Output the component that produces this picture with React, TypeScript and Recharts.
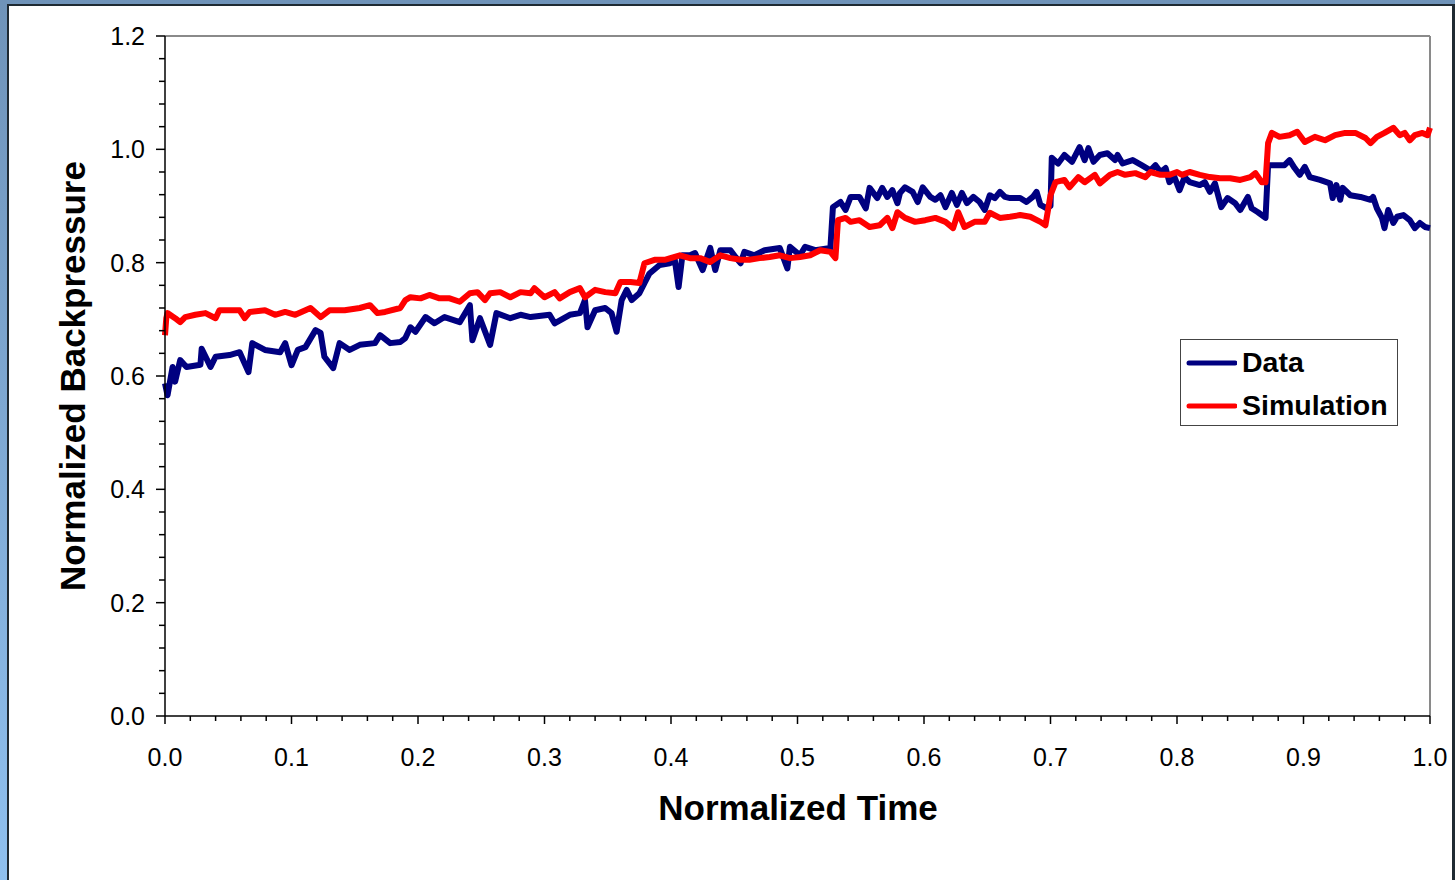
import React from 'react'
import { LineChart, Line, XAxis, YAxis, ReferenceLine, Legend } from 'recharts'

const FONT = '"Liberation Sans", Arial, sans-serif'

// measured backpressure (normalized time, normalized value)
const dataTime = [
  0.000, 0.002, 0.006, 0.008, 0.012, 0.017, 0.028, 0.029, 0.036, 0.040,
  0.051, 0.059, 0.066, 0.069, 0.079, 0.091, 0.095, 0.100, 0.105, 0.111,
  0.119, 0.123, 0.126, 0.133, 0.138, 0.146, 0.154, 0.166, 0.170, 0.178,
  0.186, 0.190, 0.194, 0.198, 0.206, 0.213, 0.221, 0.233, 0.241, 0.243,
  0.249, 0.257, 0.262, 0.273, 0.281, 0.289, 0.304, 0.308, 0.320, 0.328,
  0.332, 0.334, 0.340, 0.348, 0.353, 0.357, 0.361, 0.365, 0.369, 0.375,
  0.379, 0.383, 0.391, 0.399, 0.403, 0.406, 0.409, 0.415, 0.419, 0.425,
  0.431, 0.435, 0.439, 0.447, 0.451, 0.455, 0.458, 0.466, 0.474, 0.486,
  0.492, 0.494, 0.502, 0.506, 0.514, 0.526, 0.528, 0.534, 0.538, 0.542,
  0.549, 0.554, 0.557, 0.563, 0.567, 0.571, 0.575, 0.579, 0.581, 0.585,
  0.591, 0.595, 0.599, 0.605, 0.609, 0.613, 0.617, 0.622, 0.626, 0.630,
  0.634, 0.639, 0.644, 0.648, 0.652, 0.656, 0.660, 0.664, 0.668, 0.676,
  0.681, 0.686, 0.689, 0.692, 0.697, 0.700, 0.701, 0.706, 0.711, 0.717,
  0.723, 0.727, 0.730, 0.734, 0.739, 0.745, 0.751, 0.753, 0.757, 0.765,
  0.772, 0.779, 0.783, 0.787, 0.791, 0.794, 0.798, 0.802, 0.806, 0.810,
  0.818, 0.822, 0.826, 0.830, 0.835, 0.840, 0.846, 0.850, 0.856, 0.859,
  0.864, 0.870, 0.872, 0.877, 0.885, 0.889, 0.893, 0.897, 0.901, 0.905,
  0.913, 0.921, 0.923, 0.926, 0.929, 0.931, 0.937, 0.945, 0.953, 0.955,
  0.958, 0.962, 0.964, 0.967, 0.971, 0.974, 0.979, 0.984, 0.988, 0.992,
  0.996, 1.000,
]
const dataValue = [
  0.587, 0.566, 0.616, 0.590, 0.628, 0.616, 0.620, 0.648, 0.616, 0.634,
  0.637, 0.642, 0.607, 0.658, 0.646, 0.642, 0.658, 0.619, 0.646, 0.651,
  0.681, 0.676, 0.634, 0.614, 0.658, 0.646, 0.655, 0.658, 0.672, 0.658,
  0.660, 0.667, 0.686, 0.678, 0.704, 0.693, 0.704, 0.695, 0.725, 0.663,
  0.702, 0.655, 0.711, 0.702, 0.708, 0.704, 0.708, 0.693, 0.708, 0.711,
  0.734, 0.686, 0.716, 0.720, 0.711, 0.678, 0.734, 0.752, 0.734, 0.746,
  0.764, 0.781, 0.796, 0.799, 0.805, 0.757, 0.813, 0.813, 0.817, 0.787,
  0.826, 0.787, 0.822, 0.822, 0.810, 0.799, 0.819, 0.813, 0.822, 0.826,
  0.790, 0.828, 0.813, 0.828, 0.822, 0.826, 0.898, 0.907, 0.893, 0.916,
  0.916, 0.896, 0.932, 0.914, 0.932, 0.916, 0.928, 0.905, 0.923, 0.933,
  0.925, 0.907, 0.933, 0.916, 0.911, 0.919, 0.898, 0.923, 0.902, 0.923,
  0.905, 0.916, 0.907, 0.893, 0.919, 0.914, 0.925, 0.916, 0.914, 0.914,
  0.907, 0.916, 0.925, 0.902, 0.896, 0.900, 0.985, 0.975, 0.990, 0.978,
  1.004, 0.981, 1.002, 0.978, 0.990, 0.993, 0.981, 0.990, 0.975, 0.981,
  0.972, 0.963, 0.972, 0.960, 0.967, 0.942, 0.951, 0.928, 0.951, 0.942,
  0.937, 0.942, 0.925, 0.940, 0.898, 0.914, 0.905, 0.893, 0.916, 0.896,
  0.889, 0.879, 0.972, 0.972, 0.972, 0.981, 0.967, 0.955, 0.969, 0.951,
  0.946, 0.940, 0.914, 0.937, 0.911, 0.932, 0.919, 0.916, 0.911, 0.916,
  0.896, 0.879, 0.861, 0.893, 0.870, 0.881, 0.884, 0.875, 0.861, 0.870,
  0.863, 0.861,
]

// simulated backpressure
const simTime = [
  0.000, 0.001, 0.002, 0.008, 0.012, 0.016, 0.024, 0.032, 0.040, 0.043,
  0.059, 0.063, 0.067, 0.079, 0.087, 0.095, 0.103, 0.115, 0.123, 0.130,
  0.142, 0.154, 0.162, 0.168, 0.174, 0.186, 0.190, 0.194, 0.202, 0.209,
  0.217, 0.225, 0.233, 0.241, 0.247, 0.253, 0.257, 0.265, 0.273, 0.281,
  0.289, 0.292, 0.300, 0.308, 0.312, 0.320, 0.328, 0.332, 0.340, 0.348,
  0.356, 0.360, 0.368, 0.375, 0.379, 0.387, 0.395, 0.407, 0.415, 0.423,
  0.431, 0.439, 0.447, 0.455, 0.462, 0.470, 0.478, 0.486, 0.494, 0.502,
  0.510, 0.518, 0.526, 0.530, 0.532, 0.538, 0.542, 0.549, 0.557, 0.565,
  0.571, 0.575, 0.579, 0.585, 0.593, 0.601, 0.609, 0.617, 0.623, 0.627,
  0.632, 0.640, 0.648, 0.652, 0.660, 0.668, 0.676, 0.684, 0.692, 0.696,
  0.700, 0.704, 0.711, 0.715, 0.722, 0.727, 0.735, 0.739, 0.747, 0.753,
  0.759, 0.767, 0.775, 0.779, 0.787, 0.794, 0.800, 0.804, 0.810, 0.818,
  0.826, 0.834, 0.842, 0.850, 0.858, 0.862, 0.867, 0.870, 0.872, 0.875,
  0.881, 0.889, 0.895, 0.901, 0.909, 0.917, 0.925, 0.933, 0.941, 0.949,
  0.953, 0.958, 0.964, 0.971, 0.976, 0.980, 0.984, 0.988, 0.994, 0.998,
  1.000,
]
const simValue = [
  0.672, 0.702, 0.711, 0.702, 0.695, 0.704, 0.708, 0.711, 0.702, 0.716,
  0.716, 0.702, 0.713, 0.716, 0.708, 0.713, 0.708, 0.720, 0.704, 0.716,
  0.716, 0.720, 0.725, 0.711, 0.713, 0.720, 0.734, 0.739, 0.737, 0.743,
  0.737, 0.737, 0.731, 0.746, 0.748, 0.734, 0.746, 0.748, 0.739, 0.748,
  0.746, 0.755, 0.739, 0.748, 0.737, 0.748, 0.755, 0.739, 0.752, 0.748,
  0.746, 0.766, 0.766, 0.764, 0.799, 0.805, 0.805, 0.813, 0.808, 0.808,
  0.801, 0.813, 0.808, 0.805, 0.805, 0.808, 0.810, 0.813, 0.808, 0.810,
  0.813, 0.822, 0.819, 0.808, 0.875, 0.879, 0.872, 0.875, 0.863, 0.866,
  0.879, 0.861, 0.889, 0.879, 0.872, 0.875, 0.879, 0.872, 0.861, 0.889,
  0.863, 0.872, 0.872, 0.888, 0.879, 0.881, 0.884, 0.881, 0.872, 0.866,
  0.919, 0.942, 0.946, 0.933, 0.951, 0.942, 0.955, 0.940, 0.955, 0.960,
  0.955, 0.958, 0.951, 0.960, 0.955, 0.955, 0.960, 0.955, 0.960, 0.955,
  0.951, 0.949, 0.949, 0.946, 0.951, 0.958, 0.942, 0.942, 1.011, 1.029,
  1.022, 1.025, 1.031, 1.013, 1.022, 1.016, 1.025, 1.029, 1.029, 1.020,
  1.011, 1.022, 1.029, 1.038, 1.025, 1.029, 1.016, 1.025, 1.029, 1.025,
  1.038,
]

const xTicks = [
  0, 0.02, 0.04, 0.06, 0.08, 0.1, 0.12, 0.14, 0.16, 0.18,
  0.2, 0.22, 0.24, 0.26, 0.28, 0.3, 0.32, 0.34, 0.36, 0.38,
  0.4, 0.42, 0.44, 0.46, 0.48, 0.5, 0.52, 0.54, 0.56, 0.58,
  0.6, 0.62, 0.64, 0.66, 0.68, 0.7, 0.72, 0.74, 0.76, 0.78,
  0.8, 0.82, 0.84, 0.86, 0.88, 0.9, 0.92, 0.94, 0.96, 0.98, 1,
]
const yTicks = [
  0, 0.04, 0.08, 0.12, 0.16, 0.2, 0.24, 0.28, 0.32, 0.36, 0.4,
  0.44, 0.48, 0.52, 0.56, 0.6, 0.64, 0.68, 0.72, 0.76, 0.8,
  0.84, 0.88, 0.92, 0.96, 1, 1.04, 1.08, 1.12, 1.16, 1.2,
]

const dataPoints = dataTime.map((t, i) => ({ t, v: dataValue[i] }))
const simPoints = simTime.map((t, i) => ({ t, v: simValue[i] }))

const isMajor = (v: number, step: number) => Math.abs(v / step - Math.round(v / step)) < 1e-6

function XTick({ x, y, payload }: any) {
  const major = isMajor(payload.value, 0.1)
  return (
    <g>
      <line x1={x} x2={x} y1={y} y2={y + (major ? 8 : 5)} stroke="#000" strokeWidth={1.5} />
      {major && (
        <text x={x} y={y + 50} textAnchor="middle" fontSize={25} fontFamily={FONT} fill="#000">
          {payload.value.toFixed(1)}
        </text>
      )}
    </g>
  )
}

function YTick({ x, y, payload }: any) {
  const major = isMajor(payload.value, 0.2)
  return (
    <g>
      <line x1={x - (major ? 9 : 6)} x2={x} y1={y} y2={y} stroke="#000" strokeWidth={1.5} />
      {major && (
        <text x={x - 20} y={y + 9} textAnchor="end" fontSize={25} fontFamily={FONT} fill="#000">
          {payload.value.toFixed(1)}
        </text>
      )}
    </g>
  )
}

function LegendBox({ payload }: any) {
  return (
    <div style={{
      width: 218, height: 87, boxSizing: 'border-box', border: '1.5px solid #444',
      background: '#fff', paddingTop: 1,
    }}>
      {(payload ?? []).map((item: any) => (
        <div key={item.value} style={{ display: 'flex', alignItems: 'center', height: 43 }}>
          <svg width={56} height={10} style={{ flex: 'none' }}>
            <line x1={8} x2={54} y1={5} y2={5} stroke={item.color} strokeWidth={5} strokeLinecap="round" />
          </svg>
          <span style={{ marginLeft: 5, fontFamily: FONT, fontWeight: 700, fontSize: 28.5, color: '#000', lineHeight: 1 }}>
            {item.value}
          </span>
        </div>
      ))}
    </div>
  )
}

export default function App() {
  return (
    <div style={{
      position: 'absolute', left: 0, top: 0, width: 1455, height: 880, overflow: 'hidden',
      background: 'linear-gradient(180deg, #6f93b9 0%, #8fc0ef 100%)',
    }}>
      {/* slide frame */}
      <div style={{
        position: 'absolute', left: 7, top: 4, width: 1443, height: 880, background: '#fff',
        borderLeft: '2px solid #1f2a33', borderTop: '2px solid #1f2a33', borderRight: '3px solid #1f2a33',
      }} />

      <div style={{ position: 'absolute', left: 0, top: 0 }}>
        <LineChart
          width={1455}
          height={880}
          margin={{ top: 36, right: 25, bottom: 104, left: 0 }}
        >
          <XAxis
            type="number"
            dataKey="t"
            domain={[0, 1]}
            ticks={xTicks}
            interval={0}
            tickSize={0}
            tickMargin={0}
            tickLine={false}
            tick={<XTick />}
            height={60}
            axisLine={{ stroke: '#000', strokeWidth: 1.5 }}
            allowDuplicatedCategory={false}
          />
          <YAxis
            type="number"
            domain={[0, 1.2]}
            ticks={yTicks}
            interval={0}
            tickSize={0}
            tickMargin={0}
            tickLine={false}
            tick={<YTick />}
            width={165}
            axisLine={{ stroke: '#000', strokeWidth: 1.5 }}
          />
          <ReferenceLine y={1.2} stroke="#8a8a8a" strokeWidth={2} />
          <ReferenceLine x={1} stroke="#8a8a8a" strokeWidth={2} />
          {/* horizontal + middle + center keeps the legend out of the plot offset */}
          <Legend
            layout="horizontal"
            verticalAlign="middle"
            align="center"
            content={<LegendBox />}
            wrapperStyle={{ left: 1180, top: 339, width: 218, height: 87 }}
          />
          <Line
            data={dataPoints}
            dataKey="v"
            name="Data"
            type="linear"
            stroke="#000080"
            strokeWidth={6}
            strokeLinejoin="round"
            dot={false}
            activeDot={false}
            isAnimationActive={false}
          />
          <Line
            data={simPoints}
            dataKey="v"
            name="Simulation"
            type="linear"
            stroke="#ff0000"
            strokeWidth={6}
            strokeLinejoin="round"
            dot={false}
            activeDot={false}
            isAnimationActive={false}
          />
        </LineChart>
      </div>

      <div style={{
        position: 'absolute', left: 798, top: 808, transform: 'translate(-50%, -50%)',
        fontFamily: FONT, fontWeight: 700, fontSize: 35, whiteSpace: 'nowrap', color: '#000',
      }}>
        Normalized Time
      </div>
      <div style={{
        position: 'absolute', left: 73, top: 376, transform: 'translate(-50%, -50%) rotate(-90deg)',
        fontFamily: FONT, fontWeight: 700, fontSize: 35, whiteSpace: 'nowrap', color: '#000',
      }}>
        Normalized Backpressure
      </div>
    </div>
  )
}
